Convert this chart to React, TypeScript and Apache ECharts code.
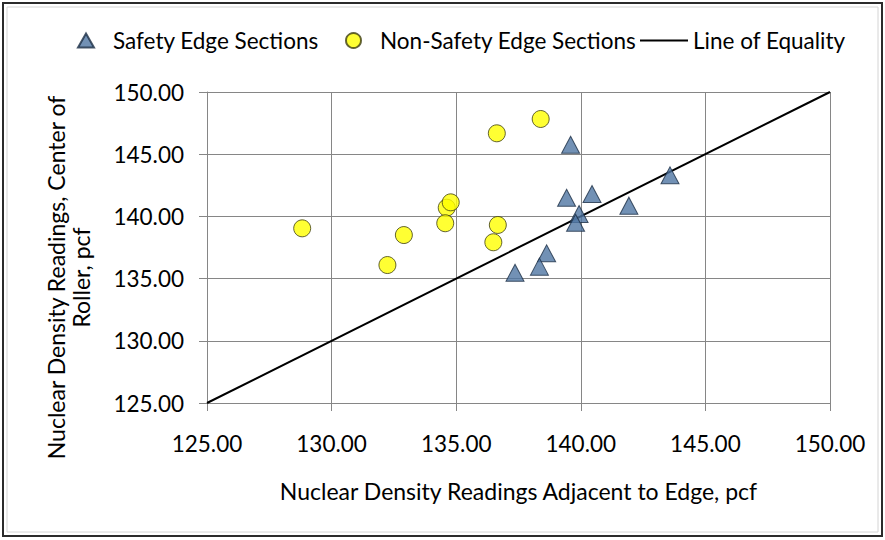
import React, { useEffect, useRef } from "react";
import * as echarts from "echarts";

const safetyX = [139.59, 139.43, 140.45, 141.93, 143.58, 139.93, 139.79, 138.63, 138.34, 137.36];
const safetyY = [145.76, 141.5, 141.8, 140.86, 143.3, 140.19, 139.49, 137.03, 135.96, 135.47];
const nonSafetyX = [128.82, 132.9, 132.24, 134.62, 134.78, 134.56, 136.67, 136.49, 136.63, 138.39];
const nonSafetyY = [139.04, 138.5, 136.09, 140.7, 141.13, 139.45, 139.31, 137.92, 146.68, 147.83];
const equalityX = [125, 150];
const equalityY = [125, 150];
const seriesNames = ["Safety Edge Sections", "Non-Safety Edge Sections", "Line of Equality"];
const xTitle = "Nuclear Density Readings Adjacent to Edge, pcf";
const yTitle = "Nuclear Density Readings, Center of\nRoller, pcf";

const FONT = "Lato, 'Open Sans', sans-serif";

export default function App() {
  const ref = useRef<HTMLDivElement>(null);
  useEffect(() => {
    if (!ref.current) return;
    const chart = echarts.init(ref.current, null, { renderer: "svg" });
    const zip = (xs: number[], ys: number[]) => xs.map((x, i) => [x, ys[i]]);
    const legendText = { fontFamily: FONT, fontSize: 22.5, color: "#000" };
    chart.setOption({
      animation: false,
      backgroundColor: "#fff",
      graphic: [
        { type: "rect", shape: { x: 3, y: 3, width: 879, height: 533 }, style: { fill: "none", stroke: "#2b2b2b", lineWidth: 2 } },
        { type: "rect", shape: { x: 7, y: 7, width: 871, height: 525 }, style: { fill: "none", stroke: "#d4d4d4", lineWidth: 1 } },
      ],
      legend: [
        {
          data: [{ name: seriesNames[0], icon: "triangle" }],
          left: 77, top: 29, padding: 0, itemWidth: 16, itemHeight: 14,
          textStyle: { ...legendText, padding: [0, 0, 0, 14] },
        },
        {
          data: [{ name: seriesNames[1], icon: "circle" }],
          left: 345, top: 29, padding: 0, itemWidth: 15, itemHeight: 15,
          textStyle: { ...legendText, padding: [0, 0, 0, 14] },
        },
        {
          data: [{ name: seriesNames[2], icon: "rect", itemStyle: { color: "#000" } }],
          left: 640, top: 29, padding: 0, itemWidth: 48, itemHeight: 2,
          textStyle: { ...legendText, padding: [0, 0, 0, 0] },
        },
      ],
      grid: { left: 207, right: 55, top: 92, bottom: 137, containLabel: false },
      xAxis: {
        type: "value", min: 125, max: 150, interval: 5,
        name: xTitle, nameLocation: "middle", nameGap: 76,
        nameTextStyle: { fontFamily: FONT, fontSize: 23, color: "#000" },
        axisLine: { show: true, lineStyle: { color: "#868686", width: 1 } },
        axisTick: { show: true, length: 8, lineStyle: { color: "#868686" } },
        splitLine: { show: true, lineStyle: { color: "#868686", width: 1 } },
        axisLabel: { margin: 29, fontFamily: FONT, fontSize: 22.5, color: "#000", formatter: (v: number) => v.toFixed(2) },
      },
      yAxis: {
        type: "value", min: 125, max: 150, interval: 5,
        name: yTitle, nameLocation: "middle", nameGap: 114, nameRotate: 90,
        nameTextStyle: { fontFamily: FONT, fontSize: 23, color: "#000", lineHeight: 25, padding: [0, 60, 0, 0] },
        axisLine: { show: true, lineStyle: { color: "#868686", width: 1 } },
        axisTick: { show: true, length: 8, lineStyle: { color: "#868686" } },
        splitLine: { show: true, lineStyle: { color: "#868686", width: 1 } },
        axisLabel: { margin: 23, fontFamily: FONT, fontSize: 22.5, color: "#000", formatter: (v: number) => v.toFixed(2) },
      },
      series: [
        {
          name: seriesNames[0], type: "scatter", symbol: "triangle", symbolSize: [18, 17],
          itemStyle: { color: "#4f76a3", borderColor: "#1c2e45", borderWidth: 1 },
          data: zip(safetyX, safetyY), z: 3,
        },
        {
          name: seriesNames[1], type: "scatter", symbol: "circle", symbolSize: 17,
          itemStyle: { color: "#ffff00", borderColor: "#3d3d10", borderWidth: 1 },
          data: zip(nonSafetyX, nonSafetyY), z: 3,
        },
        {
          name: seriesNames[2], type: "line", symbol: "none", showSymbol: false,
          lineStyle: { color: "#000", width: 2 }, itemStyle: { color: "#000" },
          data: zip(equalityX, equalityY), z: 2,
        },
      ],
    });
    return () => chart.dispose();
  }, []);
  return <div ref={ref} style={{ position: "absolute", left: 0, top: 0, width: 885, height: 540 }} />;
}
